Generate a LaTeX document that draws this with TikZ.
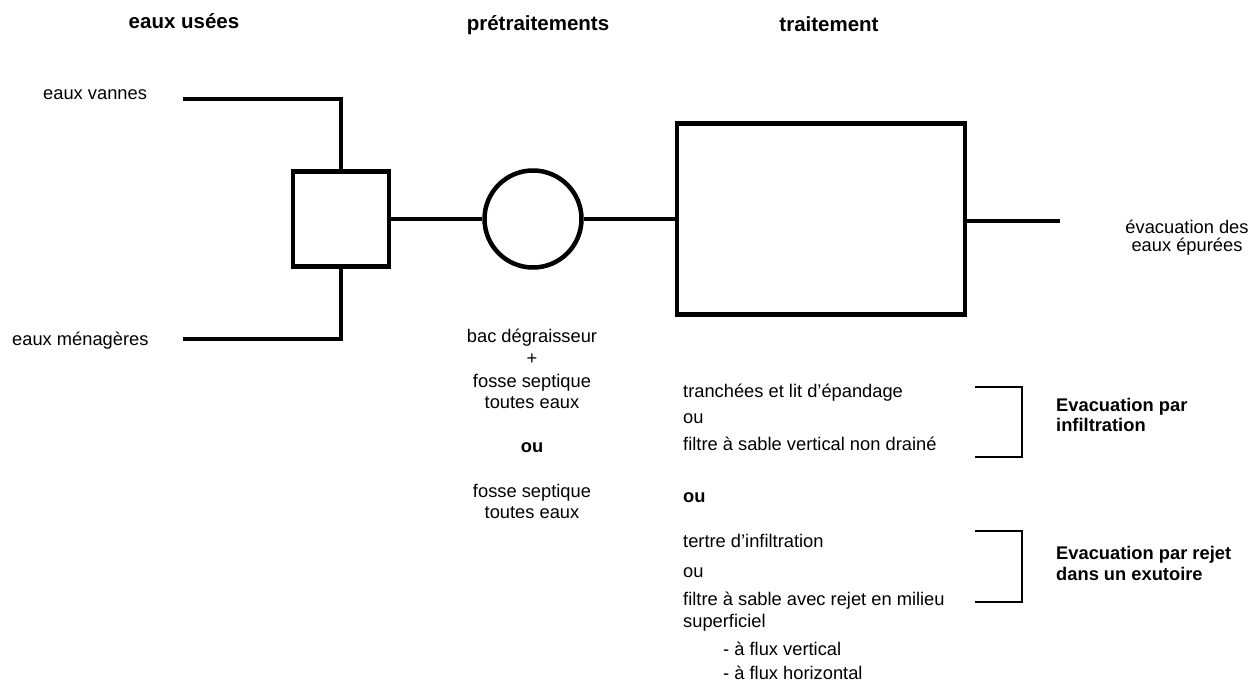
\documentclass[tikz,border=0pt]{standalone}
\usepackage{fontspec}
\setmainfont{Liberation Sans}
\begin{document}
\begin{tikzpicture}[x=1pt,y=-1pt,
  pipe/.style={line width=4.5pt},
  brk/.style={line width=2pt},
  lbl/.style={inner sep=0pt, font=\fontsize{18.3}{22}\selectfont},
  lblb/.style={inner sep=0pt, font=\fontsize{18.3}{22}\selectfont\bfseries},
  ttl/.style={inner sep=0pt, anchor=base, font=\fontsize{20.5}{24}\selectfont\bfseries}]
\useasboundingbox (0,0) rectangle (1253,682);

% titles
\node[ttl] (t1) at (184,29) {eaux usées};
\node[ttl] (t2) at (538,31) {prétraitements};
\node[ttl] (t3) at (829,32) {traitement};

% shapes
\node[pipe, draw, minimum width=96pt, minimum height=95pt, inner sep=0pt] (fosse) at (341,219) {};
\node[pipe, draw, circle, minimum size=97pt, inner sep=0pt] (bac) at (533,219) {};
\node[pipe, draw, minimum width=288pt, minimum height=191pt, inner sep=0pt] (trait) at (821,219) {};

\coordinate (vin) at (183,99);
\coordinate (vmen) at (183,339);
\coordinate (out) at (1060,221);

% connectors
\draw[pipe] (vin) -- (vin -| fosse.north) -- (fosse.north);
\draw[pipe] (vmen) -- (vmen -| fosse.south) -- (fosse.south);
\draw[pipe] (fosse.east) -- (bac.west);
\draw[pipe] (bac.east) -- (trait.west);
\draw[pipe] (out -| trait.east) -- (out);

% inlet labels
\node[lbl, anchor=base west] (ev) at (43,100) {eaux vannes};
\node[lbl, anchor=base west] (em) at (12,345) {eaux ménagères};

% outlet label
\node[lbl, anchor=base] (o1) at (1187,233) {évacuation des};
\node[lbl, anchor=base] (o2) at (1187,251) {eaux épurées};

% pretreatment texts
\node[lbl, anchor=base] (p1) at (532,342) {bac dégraisseur};
\node[lbl, anchor=base] (p2) at (532,364) {+};
\node[lbl, anchor=base] (p3) at (532,387) {fosse septique};
\node[lbl, anchor=base] (p4) at (532,408) {toutes eaux};
\node[lblb, anchor=base] (p5) at (532,452) {ou};
\node[lbl, anchor=base] (p6) at (532,497) {fosse septique};
\node[lbl, anchor=base] (p7) at (532,518) {toutes eaux};

% treatment texts
\node[lbl, anchor=base west] (r1) at (683,397) {tranchées et lit d’épandage};
\node[lbl, anchor=base west] (r2) at (683,423) {ou};
\node[lbl, anchor=base west] (r3) at (683,450) {filtre à sable vertical non drainé};
\node[lblb, anchor=base west] (r4) at (683,502) {ou};
\node[lbl, anchor=base west] (r5) at (683,547) {tertre d’infiltration};
\node[lbl, anchor=base west] (r6) at (683,577) {ou};
\node[lbl, anchor=base west] (r7) at (683,605) {filtre à sable avec rejet en milieu};
\node[lbl, anchor=base west] (r8) at (683,627) {superficiel};
\node[lbl, anchor=base west] (r9) at (723,655) {- à flux vertical};
\node[lbl, anchor=base west] (r10) at (723,679) {- à flux horizontal};

% brackets
\coordinate (b1t) at (975,387);
\coordinate (b1b) at (975,457);
\coordinate (b2t) at (975,531);
\coordinate (b2b) at (975,602);
\draw[brk] (b1t) -- ++(47,0) |- (b1b);
\draw[brk] (b2t) -- ++(47,0) |- (b2b);

% evacuation labels
\node[lblb, anchor=base west] (e1) at (1056,411) {Evacuation par};
\node[lblb, anchor=base west] (e2) at (1056,431) {infiltration};
\node[lblb, anchor=base west] (e3) at (1056,559) {Evacuation par rejet};
\node[lblb, anchor=base west] (e4) at (1056,580) {dans un exutoire};
\end{tikzpicture}
\end{document}
